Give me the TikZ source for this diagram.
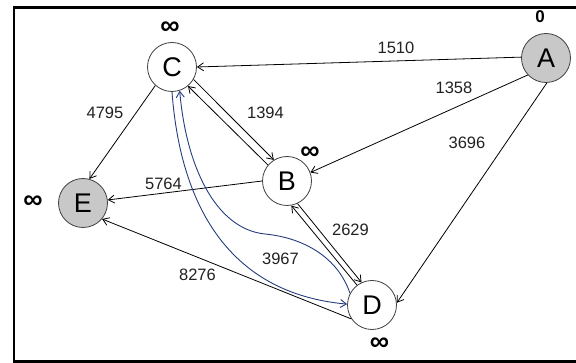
\documentclass[tikz,border=0pt]{standalone}
\usepackage{fontspec}
\setmainfont{Liberation Sans}
\usetikzlibrary{arrows.meta,calc}
\definecolor{nodegray}{RGB}{200,200,200}
\definecolor{curveblue}{RGB}{38,62,126}
\definecolor{labelgray}{RGB}{34,34,34}
\tikzset{
  vertex/.style={circle,draw=black!75,line width=0.8pt,minimum size=49pt,inner sep=0pt,font=\fontsize{27}{29}\selectfont},
  grayvertex/.style={vertex,fill=nodegray},
  edge/.style={draw=black,line width=0.8pt,-{Straight Barb[length=6pt,width=8pt]}},
  blueedge/.style={draw=curveblue,line width=0.9pt,-{Straight Barb[length=6pt,width=8pt]}},
  weight/.style={font=\fontsize{16.5}{18}\selectfont,text=labelgray,inner sep=0pt},
  dist/.style={font=\fontsize{27}{29}\selectfont\bfseries,inner sep=0pt},
  distzero/.style={font=\fontsize{17}{19}\selectfont\bfseries,inner sep=0pt},
  frameline/.style={draw=black,line width=2.5pt}
}
\begin{document}
\begin{tikzpicture}[x=1pt,y=-1pt]
\useasboundingbox (0,0) rectangle (576,363);
\fill[white] (0,0) rectangle (576,363);
% frame (open on the right)
\draw[frameline] (580,7.7) -- (14,7.7) -- (14,361.7) -- (580,361.7);

% vertices
\node[grayvertex] (A) at (546,58) {A};
\node[vertex] (C) at (172,67) {C};
\node[vertex] (B) at (287,181) {B};
\node[vertex] (D) at (372,305) {D};
\node[grayvertex] (E) at (83,203) {E};

% distance labels
\node[distzero] (dA) at (540,17) {0};
\node[dist] (dC) at (170,28) {∞};
\node[dist] (dB) at (310,153) {∞};
\node[dist] (dE) at (33,202) {∞};
\node[dist] (dD) at (379.5,344) {∞};

% edges
\draw[edge] (A.178) -- (C.0);
\draw[edge] (A.223) -- (B.20);
\draw[edge] (A.-88) -- (D.5);
\draw[edge] (C.228) -- (E.75);
\draw[edge] (C.-30) -- (B.122);
\draw[edge] (B.140) -- (C.-50);
\draw[edge] (B.180) -- (E.7);
\draw[edge] (B.-65) -- (D.115);
\draw[edge] (D.127) -- (B.-80);
\draw[edge] (D.214) -- (E.-40);

% blue curves between C and D
\draw[blueedge] (C.-90) .. controls (180,200) and (225,293) .. (D.178);
\draw[blueedge] (D.152) .. controls (338,258) and (305,238) .. (265,234)
   .. controls (215,229) and (186,165) .. (C.-72);

% weights
\node[weight] (w1510) at (396,47.5) {1510};
\node[weight] (w1358) at (454,87.5) {1358};
\node[weight] (w3696) at (467,142.5) {3696};
\node[weight] (w4795) at (105,112.5) {4795};
\node[weight] (w1394) at (265.5,112.5) {1394};
\node[weight] (w5764) at (163.5,184) {5764};
\node[weight] (w2629) at (350.5,229.5) {2629};
\node[weight] (w3967) at (280.5,259) {3967};
\node[weight] (w8276) at (197.5,275) {8276};
\end{tikzpicture}
\end{document}
